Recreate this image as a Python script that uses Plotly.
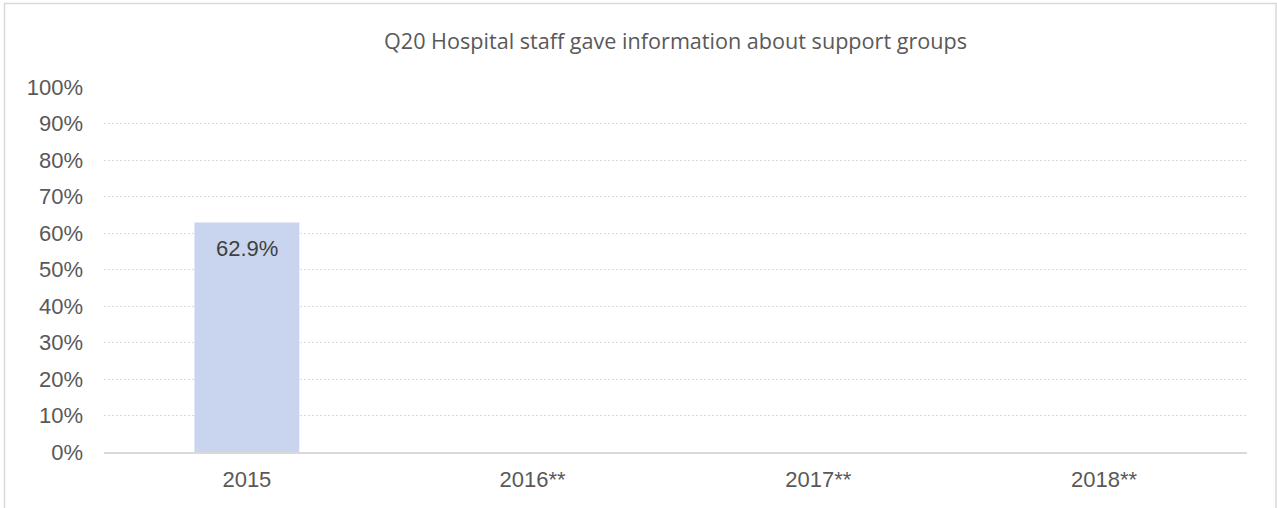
import plotly.graph_objects as go

categories = ["2015", "2016**", "2017**", "2018**"]
values = [0.629, None, None, None]
labels = ["62.9%", "", "", ""]
title_text = "Q20 Hospital staff gave information about support groups"

W, H = 1277, 508
ml, mr, mt, mb = 104, 30, 87, 56
pw = W - ml - mr
ph = H - mt - mb

tick_font = dict(family="Liberation Sans, Arial", size=22, color="#595959")

fig = go.Figure()
fig.add_trace(go.Bar(
    x=categories, y=values,
    marker=dict(color="#C9D5EE", line=dict(width=0)),
    width=0.367, hoverinfo="skip",
))

annotations = []
for i, (v, t) in enumerate(zip(values, labels)):
    if v is not None and t:
        annotations.append(dict(
            x=i, y=v, xref="x", yref="y", text=t, showarrow=False,
            yanchor="top", yshift=-12,
            font=dict(family="Liberation Sans, Arial", size=22, color="#404040"),
        ))

fig.update_layout(
    width=W, height=H,
    margin=dict(l=ml, r=mr, t=mt, b=mb),
    paper_bgcolor="white", plot_bgcolor="white",
    title=dict(text=title_text, x=0.5, xref="paper", xanchor="center",
               y=1 - 41 / H, yanchor="middle",
               font=dict(family="Open Sans", size=21.6, color="#595959")),
    showlegend=False,
    xaxis=dict(type="category", categoryorder="array", categoryarray=categories,
               range=[-0.5, len(categories) - 0.5],
               tickvals=categories, ticktext=categories,
               showgrid=False, showline=True, linecolor="#D9D9D9", linewidth=2,
               ticks="", tickfont=tick_font, ticklabelstandoff=7,
               fixedrange=True),
    yaxis=dict(range=[0, 1.0], tickvals=[i / 10 for i in range(11)], tickformat=".0%",
               showgrid=True, gridcolor="#D9D9D9", griddash="2px,2px", gridwidth=1,
               zeroline=False, showline=False, ticks="",
               tickfont=tick_font, ticklabelstandoff=20,
               fixedrange=True),
    annotations=annotations,
    shapes=[dict(type="rect", xref="paper", yref="paper",
                 x0=(4.5 - ml) / pw, x1=(1276 - ml) / pw,
                 y0=(H - mb - 520) / ph, y1=(H - mb - 3.5) / ph,
                 line=dict(color="#D9D9D9", width=1.5), fillcolor="rgba(0,0,0,0)", layer="below")],
)
fig.write_html("out.html", config={"displayModeBar": False},
               post_script="document.body.style.margin='0';document.body.style.overflow='hidden';")
